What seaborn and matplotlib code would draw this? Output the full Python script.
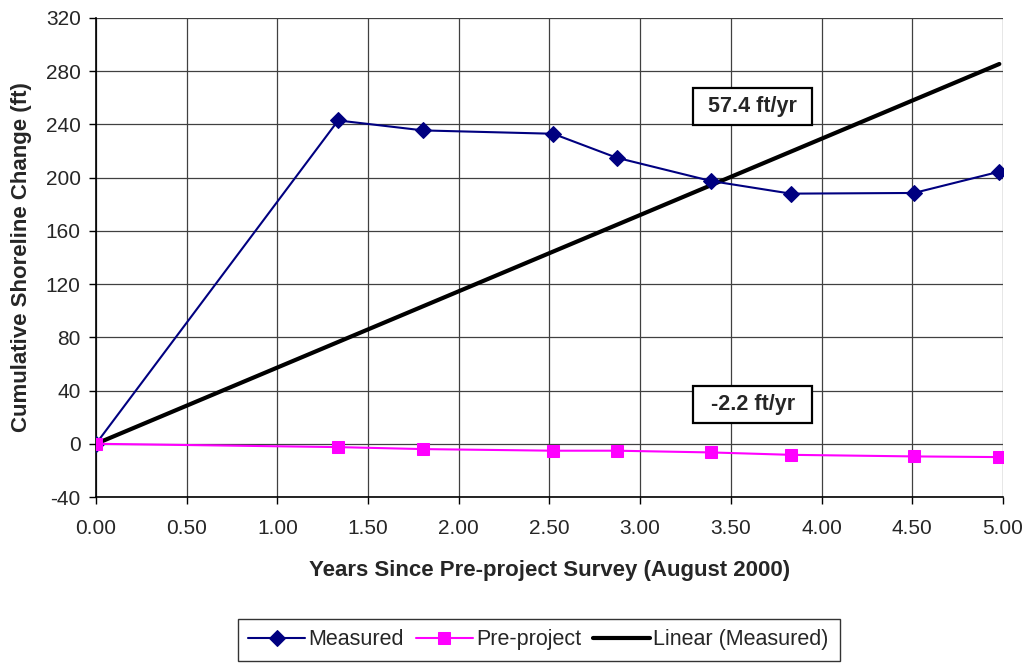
import numpy as np
import pandas as pd
import matplotlib
matplotlib.use("Agg")
import matplotlib.pyplot as plt
from matplotlib.patches import Rectangle
import seaborn as sns

# data
years = [0.0, 1.335, 1.805, 2.52, 2.87, 3.39, 3.83, 4.51, 4.98]
measured = [0.0, 243.0, 235.5, 233.0, 215.0, 197.5, 188.0, 188.5, 204.5]
pre_project = [0.0, -2.5, -4.0, -5.2, -5.2, -6.5, -8.3, -9.5, -10.0]
rate_labels = ["57.4 ft/yr", "-2.2 ft/yr"]
x_ticks = [0.0, 0.5, 1.0, 1.5, 2.0, 2.5, 3.0, 3.5, 4.0, 4.5, 5.0]
y_ticks = [-40, 0, 40, 80, 120, 160, 200, 240, 280, 320]


def rate_box(ax, xc, yc, text):
    # white box with black border, sized like the excel text box
    w, h = 0.655, 28.5
    ax.add_patch(Rectangle((xc - w / 2, yc - h / 2), w, h, facecolor="white",
                           edgecolor="black", lw=1.6, zorder=5))
    ax.text(xc, yc, text, ha="center", va="center", fontsize=15.5,
            fontweight="bold", zorder=6)


def main():
    sns.set_style("white")
    plt.rcParams["font.family"] = ["Liberation Sans", "DejaVu Sans"]
    plt.rcParams["axes.unicode_minus"] = False

    x = np.array(years)
    y = np.array(measured)
    # linear trend of measured, forced through the origin
    slope = np.sum(x * y) / np.sum(x * x)
    trend = slope * x

    df = pd.DataFrame({"x": x, "measured": y, "pre": pre_project, "trend": trend})

    fig = plt.figure(figsize=(10.29, 6.64), dpi=100)
    ax = fig.add_axes([0.0933, 0.2515, 0.8814, 0.7214])

    sns.lineplot(data=df, x="x", y="measured", ax=ax, color="#000080", lw=1.5,
                 marker="D", markersize=8, markeredgecolor="#000080",
                 label="Measured", zorder=4)
    sns.lineplot(data=df, x="x", y="pre", ax=ax, color="#FF00FF", lw=1.5,
                 marker="s", markersize=8, markeredgecolor="#FF00FF",
                 label="Pre-project", zorder=4)
    sns.lineplot(data=df, x="x", y="trend", ax=ax, color="black", lw=3,
                 label="Linear (Measured)", zorder=3)

    ax.set_xlim(0, 5)
    ax.set_ylim(-40, 320)
    ax.set_xticks(x_ticks)
    ax.set_yticks(y_ticks)
    ax.set_xticklabels(["{:.2f}".format(t) for t in x_ticks])
    ax.tick_params(axis="both", labelsize=15, length=5, width=1, color="black",
                   direction="out", bottom=True, left=True)
    ax.tick_params(axis="x", pad=11)
    ax.tick_params(axis="y", pad=6)
    ax.grid(True, color="#404040", lw=0.9)
    for side in ["top", "right"]:
        ax.spines[side].set_visible(False)
    for side in ["left", "bottom"]:
        ax.spines[side].set_color("black")
        ax.spines[side].set_linewidth(1.2)

    ax.set_xlabel("Years Since Pre-project Survey (August 2000)", fontsize=16,
                  fontweight="bold", labelpad=16)
    ax.set_ylabel("Cumulative Shoreline Change (ft)", fontsize=16,
                  fontweight="bold", labelpad=10)

    rate_box(ax, 3.62, 253.5, rate_labels[0])
    rate_box(ax, 3.62, 29.5, rate_labels[1])

    leg = ax.legend(loc="center", bbox_to_anchor=(0.488, -0.2985), ncol=3,
                    fontsize=15.5, frameon=True, fancybox=False, handlelength=2.65,
                    handletextpad=0.15, columnspacing=0.55, borderpad=0.5,
                    borderaxespad=0)
    leg.get_frame().set_edgecolor("black")
    leg.get_frame().set_linewidth(1)

    fig.savefig("out.png", dpi=100)


if __name__ == "__main__":
    main()
